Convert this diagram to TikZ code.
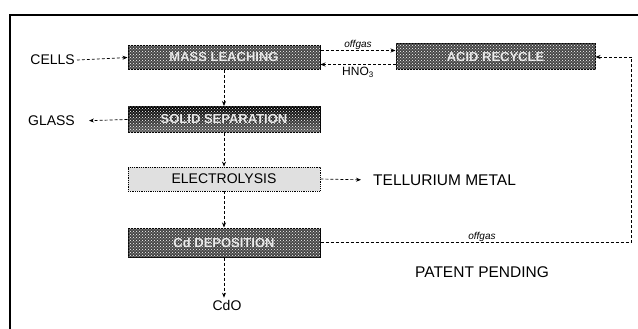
\documentclass[tikz,border=0pt]{standalone}
\usepackage{fontspec}
\setmainfont{Liberation Sans}
\usetikzlibrary{arrows.meta,patterns}
\begin{document}
\begin{tikzpicture}[x=1pt,y=-1pt,
  darkbox/.style={draw=black,line width=1pt,fill=black!72,
     minimum height=24pt,minimum width=192pt,inner sep=0pt,
     font=\fontsize{13}{13}\selectfont\bfseries,text=white!90!black},
  lightbox/.style={draw=black,densely dotted,line width=0.8pt,fill=black!12,
     minimum height=24pt,minimum width=192pt,inner sep=0pt,
     font=\fontsize{14}{14}\selectfont},
  lbl/.style={font=\fontsize{14}{14}\selectfont,inner sep=2pt},
  biglbl/.style={font=\fontsize{15.5}{15.5}\selectfont,inner sep=2pt},
  small/.style={font=\fontsize{10}{10}\selectfont\itshape,inner sep=1pt},
  dots/.style={pattern=crosshatch dots,pattern color=white},
  flow/.style={densely dashed,line width=0.7pt,-{Stealth[length=5pt,width=4pt]}},
  plain/.style={densely dashed,line width=0.7pt}]
\useasboundingbox (0,0) rectangle (638,329);
% frame
\draw[line width=1.4pt] (10,329) -- (10,15) -- (638,15);
% boxes
\node[darkbox] (b1) at (224,57.5) {MASS LEACHING};
\fill[dots] (b1.north west) rectangle (b1.south east);
\node[darkbox,top color=black,bottom color=black!60,minimum height=26pt] (b2) at (224,119.5) {SOLID SEPARATION};
\fill[dots] (b2.north west) rectangle (b2.south east);
\node[lightbox] (b3) at (224,179) {ELECTROLYSIS};
\node[darkbox,minimum height=29pt] (b4) at (224,242.5) {Cd DEPOSITION};
\fill[dots] (b4.north west) rectangle (b4.south east);
\node[darkbox,minimum width=199pt,minimum height=26pt] (rc) at (495.5,57) {ACID RECYCLE};
\fill[dots] (rc.north west) rectangle (rc.south east);
% text nodes
\node[lbl,anchor=east] (cells) at (77,60) {CELLS};
\node[lbl,anchor=east] (glass) at (77,121) {GLASS};
\node[biglbl,anchor=west] (tm) at (371,180) {TELLURIUM METAL};
\node[lbl] (cdo) at (227,305) {CdO};
\node[biglbl] (pp) at (482,272) {PATENT PENDING};
\coordinate (rt) at (631,0);
% connectors
\draw[flow] (cells.east) -- (b1.west);
\draw[flow,shorten >=12pt] (b2.west) -- (glass.east);
\draw[flow] (b1.south) -- (b2.north);
\draw[flow] (b2.south) -- (b3.north);
\draw[flow] (b3.south) -- (b4.north);
\draw[flow] (b4.south) -- (b4.south |- cdo.north);
\draw[flow,shorten >=10pt] (b3.east) -- (tm.west);
\draw[flow] ([yshift=7pt]b1.east) -- node[small,above]{offgas} ([yshift=7pt]b1.east -| rc.west);
\draw[flow] ([yshift=-7.5pt]rc.west) -- node[lbl,below,font=\fontsize{12}{12}\selectfont]{HNO\textsubscript{3}} ([yshift=-7.5pt]rc.west -| b1.east);
\draw[plain] (b4.east) -- node[small,above,pos=0.52]{offgas} (b4.east -| rt);
\draw[flow] (b4.east -| rt) -- (rc.east -| rt) -- (rc.east);
\end{tikzpicture}
\end{document}
